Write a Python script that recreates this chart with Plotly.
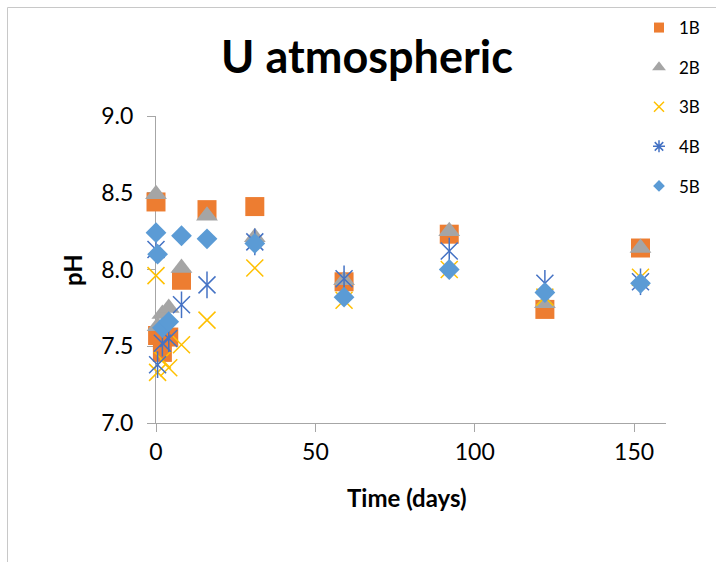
import plotly.graph_objects as go

# ---- data ----
days = [0, 0.5, 2, 4, 8, 16, 31, 59, 92, 122, 152]
ph_1B = [8.44, 7.57, 7.46, 7.56, 7.93, 8.39, 8.41, 7.92, 8.23, 7.74, 8.14]
ph_2B = [8.49, 7.63, 7.71, 7.75, 8.01, 8.35, 8.21, 7.93, 8.25, 7.78, 8.14]
ph_3B = [7.96, 7.33, 7.41, 7.36, 7.51, 7.67, 8.01, 7.80, 8.00, 7.82, 7.95]
ph_4B = [8.13, 7.38, 7.52, 7.55, 7.77, 7.90, 8.18, 7.94, 8.12, 7.91, 7.92]
ph_5B = [8.24, 8.10, 7.62, 7.66, 8.22, 8.20, 8.17, 7.82, 8.00, 7.85, 7.91]
series_names = ["1B", "2B", "3B", "4B", "5B"]
x_ticks = [0, 50, 100, 150]
y_ticks = [7.0, 7.5, 8.0, 8.5, 9.0]

FONT = "Lato"
AX = "#A6A6A6"

# plot-area pixel geometry
L, R, T, B = 156, 50, 116, 139
W, H = 716, 562
pw, ph = W - L - R, H - T - B


def px_x(p):
    return (p - L) / pw


def px_y(p):
    return (H - B - p) / ph


fig = go.Figure()

styles = {
    "1B": dict(symbol="square", size=19, color="#ED7D31"),
    "2B": dict(symbol="triangle-up", size=19, color="#A5A5A5"),
    "3B": dict(symbol="x-thin-open", size=17, color="#FFC000", line=dict(width=1.5, color="#FFC000")),
    "4B": dict(symbol="x-thin-open", size=17, color="#4472C4", line=dict(width=1.5, color="#4472C4")),
    "5B": dict(symbol="diamond", size=16, color="#5B9BD5"),
}
values = {"1B": ph_1B, "2B": ph_2B, "3B": ph_3B, "4B": ph_4B, "5B": ph_5B}

for name in series_names:
    st = dict(styles[name])
    fig.add_trace(go.Scatter(x=days, y=values[name], mode="markers", name=name,
                             marker=st, showlegend=False, cliponaxis=False,
                             hoverinfo="x+y+name"))
    if name == "4B":
        fig.add_trace(go.Scatter(x=days, y=values[name], mode="markers", name=name,
                                 marker=dict(symbol="line-ns-open", size=19, color="#4472C4",
                                             line=dict(width=1.5, color="#4472C4")),
                                 showlegend=False, cliponaxis=False, hoverinfo="skip"))

# legend entries
leg_styles = {
    "1B": dict(symbol="square", size=10, color="#ED7D31"),
    "2B": dict(symbol="triangle-up", size=12, color="#A5A5A5"),
    "3B": dict(symbol="x-thin-open", size=10, color="#FFC000", line=dict(width=1.5, color="#FFC000")),
    "4B": dict(symbol="asterisk-open", size=10, color="#4472C4", line=dict(width=1.5, color="#4472C4")),
    "5B": dict(symbol="diamond", size=9, color="#5B9BD5"),
}
for i, name in enumerate(series_names):
    fig.add_trace(go.Scatter(x=[None], y=[None], mode="markers", name=name,
                             marker=leg_styles[name], legendgroup=name, showlegend=True))

fig.update_layout(
    width=W, height=H,
    margin=dict(l=L, r=R, t=T, b=B, autoexpand=False),
    paper_bgcolor="white", plot_bgcolor="white",
    font=dict(family=FONT, color="#000000"),
    title=dict(text="<b>U atmospheric</b>", x=367 / W, xanchor="center",
               y=1 - 57 / H, yanchor="middle", font=dict(size=45, family=FONT, color="#000")),
    legend=dict(x=px_x(639), xanchor="left", y=px_y(10), yanchor="top",
                font=dict(size=17, family=FONT, color="#000"),
                itemsizing="trace", tracegroupgap=14.5, traceorder="grouped",
                bgcolor="rgba(0,0,0,0)"),
    xaxis=dict(range=[0, 160], tickvals=x_ticks, ticktext=[str(v) for v in x_ticks],
               showgrid=False, zeroline=False, showline=True, linecolor=AX, linewidth=1,
               ticks="outside", ticklen=8, tickcolor=AX, tickwidth=1,
               tickfont=dict(size=23, family=FONT), layer="below traces"),
    yaxis=dict(range=[7, 9], tickvals=y_ticks, ticktext=["%.1f" % v for v in y_ticks],
               showgrid=False, zeroline=False, showline=True, linecolor=AX, linewidth=1,
               ticks="outside", ticklen=8, tickcolor=AX, tickwidth=1,
               tickfont=dict(size=23, family=FONT), ticklabelstandoff=9, layer="below traces"),
    annotations=[
        dict(text="<b>pH</b>", x=px_x(72), y=px_y(270), xref="paper", yref="paper",
             textangle=-90, showarrow=False, font=dict(size=24, family=FONT),
             xanchor="center", yanchor="middle"),
        dict(text="<b>Time (days)</b>", x=px_x(407), y=px_y(497), xref="paper", yref="paper",
             showarrow=False, font=dict(size=24, family=FONT),
             xanchor="center", yanchor="middle"),
    ],
    shapes=[dict(type="rect", xref="paper", yref="paper",
                 x0=px_x(7.5), x1=px_x(730), y0=px_y(580), y1=px_y(7.5),
                 line=dict(color="#C8C8C8", width=1), layer="below")],
)

fig.write_html("out.html")
